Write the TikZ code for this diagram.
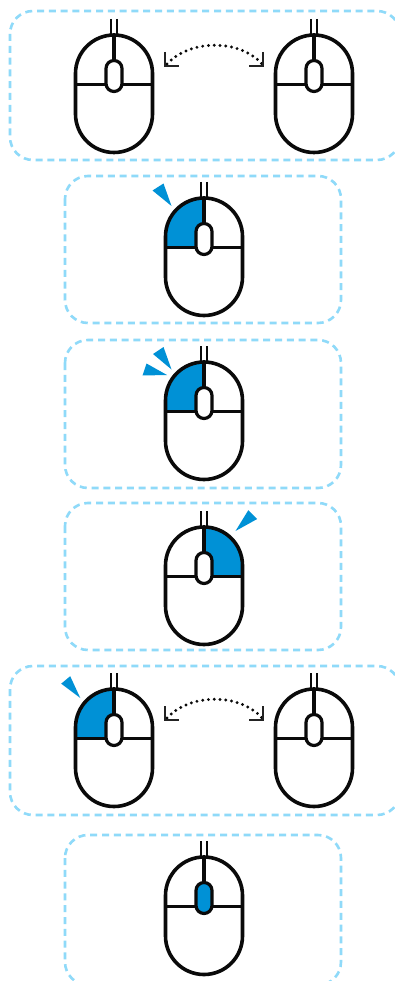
\documentclass[tikz,border=0pt]{standalone}
\definecolor{clickblue}{HTML}{0091D6}
\definecolor{boxblue}{HTML}{8FDAF9}
\definecolor{ink}{HTML}{0A0A0A}
\tikzset{
  x=1pt,y=-1pt,
  panel/.style={draw=boxblue,line width=2.6pt,dash pattern=on 7pt off 4.8pt,rounded corners=23pt},
  mline/.style={draw=ink,line width=3.6pt},
  cable/.style={draw=ink,line width=2.4pt},
  wheelbox/.style={draw=ink,line width=3.2pt,rounded corners=8pt},
  pointer/.style={fill=clickblue,draw=none},
  swingcurve/.style={draw=ink,line width=3.2pt,line cap=round,dash pattern=on 0pt off 5.8pt},
  corner/.style={draw=ink!90,line width=2.5pt},
  pics/mouse/.style={code={
    \path[fill=white] (-38.5,38.5) arc[start angle=180,end angle=360,radius=38.5] -- (38.5,79) arc[start angle=0,end angle=180,radius=38.5] -- cycle;
    #1
    \draw[cable] (-2.8,-16)--(-2.8,1) (2.8,-16)--(2.8,1);
    \draw[mline] (-38.5,38.5) arc[start angle=180,end angle=360,radius=38.5] -- (38.5,79) arc[start angle=0,end angle=180,radius=38.5] -- cycle;
    \draw[mline] (0,1)--(0,26) (-38.5,49.5)--(38.5,49.5);
  }},
  pics/wheel/.style={code={
    \draw[wheelbox,fill=#1] (-8,25.5) rectangle (8,56.5);
  }},
}
\newcommand{\leftblue}{\fill[clickblue] (-38.5,49.5) -- (-38.5,38.5) arc[start angle=180,end angle=270,radius=38.5] -- (0,49.5) -- cycle;}
\newcommand{\rightblue}{\fill[clickblue] (38.5,49.5) -- (38.5,38.5) arc[start angle=360,end angle=270,radius=38.5] -- (0,49.5) -- cycle;}
\newcommand{\swing}{%
  \draw[swingcurve] (167,64) .. controls (190,39) and (240,39) .. (262,64);
  \draw[corner] (165,52)--(165,66)--(179,66);
  \draw[corner] (263,52)--(263,66)--(249,66);}
\begin{document}
\begin{tikzpicture}
\useasboundingbox (0,0) rectangle (395,981);
\clip (0,0) rectangle (395,981);
\path[fill=white] (0,0) rectangle (395,981);
% panels
\draw[panel] (10,11) rectangle (400,160);
\draw[panel] (65,176) rectangle (341,323);
\draw[panel] (65,340) rectangle (341,488);
\draw[panel] (65,503) rectangle (341,650);
\draw[panel] (10,666) rectangle (400,815);
\draw[panel] (65,835) rectangle (341,985);
% row 1
\pic at (114,35) {mouse={}};\pic at (114,35) {wheel=white};
\pic at (314,35) {mouse={}};\pic at (314,35) {wheel=white};
\swing
% row 2
\pic at (204,198) {mouse={\leftblue}};\pic at (204,198) {wheel=white};
\fill[pointer] (152.5,190.5)--(163.5,183.5)--(171.5,206)--cycle;
% row 3
\pic at (204,362) {mouse={\leftblue}};\pic at (204,362) {wheel=white};
\fill[pointer] (153,354)--(163.5,347)--(171.5,369.5)--cycle;
\fill[pointer] (142.5,375.5)--(146.5,363.5)--(167,375)--cycle;
% row 4
\pic at (204,527) {mouse={\rightblue}};\pic at (204,527) {wheel=white};
\fill[pointer] (248.3,510.2)--(257.2,519)--(235.5,531)--cycle;
% row 5
\pic at (114,689) {mouse={\leftblue}};\pic at (114,689) {wheel=white};
\pic at (314,689) {mouse={}};\pic at (314,689) {wheel=white};
\fill[pointer] (61.2,683.7)--(70.2,676.2)--(80.3,698)--cycle;
\begin{scope}[shift={(0,654)}]\swing\end{scope}
% row 6
\pic at (204,857) {mouse={}};\pic at (204,857) {wheel=clickblue};
\end{tikzpicture}
\end{document}
